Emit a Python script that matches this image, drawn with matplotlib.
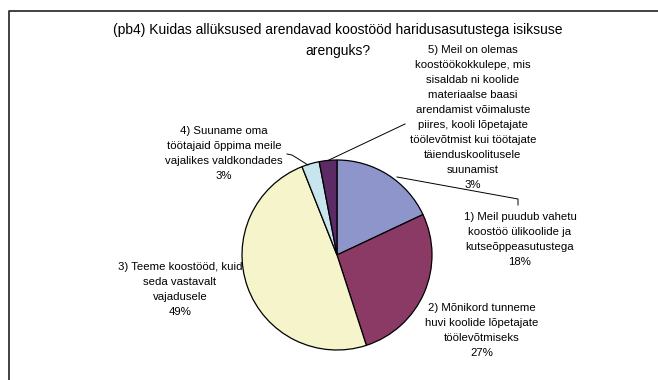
import matplotlib.pyplot as plt

plt.rcParams['font.family'] = ['Liberation Sans', 'DejaVu Sans']

W, H = 658, 380

title = '(pb4) Kuidas allüksused arendavad koostööd haridusasutustega isiksuse\narenguks?'
labels = [
    '1) Meil puudub vahetu\nkoostöö ülikoolide ja\nkutseõppeasutustega',
    '2) Mõnikord tunneme\nhuvi koolide lõpetajate\ntöölevõtmiseks',
    '3) Teeme koostööd, kuid\nseda vastavalt\nvajadusele',
    '4) Suuname oma\ntöötajaid õppima meile\nvajalikes valdkondades',
    '5) Meil on olemas\nkoostöökokkulepe, mis\nsisaldab ni koolide\nmateriaalse baasi\narendamist võimaluste\npiires, kooli lõpetajate\ntöölevõtmist kui töötajate\ntäienduskoolitusele\nsuunamist',
]
values = [18, 27, 49, 3, 3]
colors = ['#8E95CA', '#8B3A65', '#F6F4CA', '#C6E5EC', '#5C2A64']

fig = plt.figure(figsize=(W / 100, H / 100), dpi=100)
ax = fig.add_axes([0, 0, 1, 1])

def py(y):
    return H - y

ax.pie(values, colors=colors, startangle=90, counterclock=False,
       center=(337, py(255)), radius=95,
       wedgeprops=dict(edgecolor='black', linewidth=0.9))

ax.set_xlim(0, W)
ax.set_ylim(0, H)
ax.set_aspect('auto')
ax.axis('off')

# chart frame (only top and left edge visible)
ax.plot([9, 9, W + 5], [py(H + 5), py(11), py(11)], color='#333333', lw=1.3)

ax.text(338, py(23), title, ha='center', va='top', fontsize=10,
        linespacing=1.6)

# label positions (x center, y of first line)
pos = [(520, 216), (482, 307), (180, 266), (224, 130), (473, 49)]
for lab, v, (x, y) in zip(labels, values, pos):
    ax.text(x, py(y) + 4, lab + '\n%d%%' % v, ha='center', va='top',
            fontsize=8.2, linespacing=1.62)

# leader lines
ax.plot([329, 405], [py(160), py(124)], color='black', lw=0.7)
ax.plot([397, 518, 518], [py(177), py(199), py(205)], color='black', lw=0.7)
ax.plot([308, 292, 287], [py(165), py(155), py(154)], color='black', lw=0.7)

fig.savefig('out.png', dpi=100)
